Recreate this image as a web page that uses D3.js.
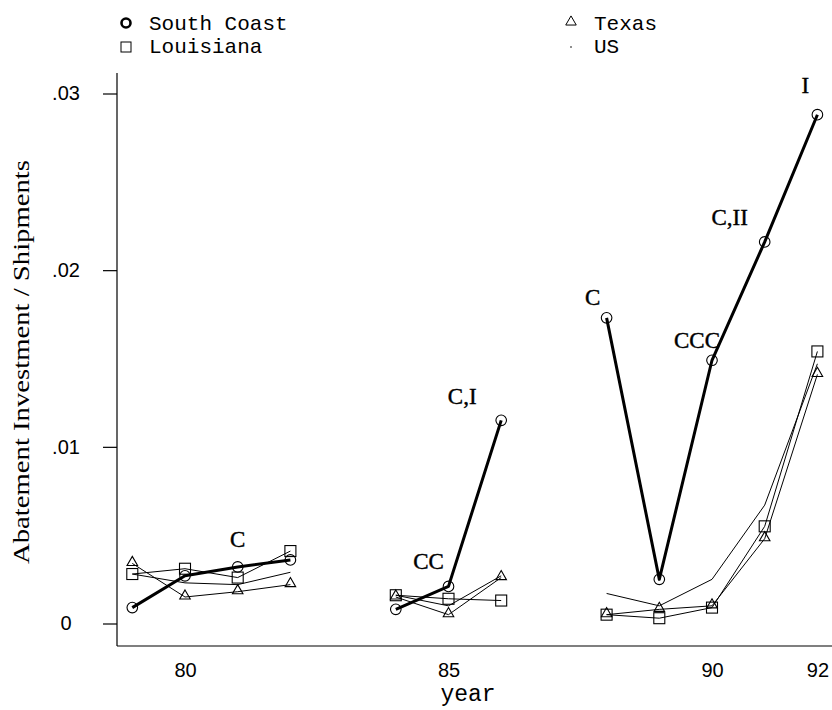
<!DOCTYPE html>
<html lang="en">
<head>
  <meta charset="UTF-8">
  <title>Abatement Investment / Shipments</title>
  <script src="https://d3js.org/d3.v7.min.js"></script>
  <style>
    body { margin: 0; background: #fff; }
    .mono { font-family: "Liberation Mono", "DejaVu Sans Mono", monospace; }
    .serif { font-family: "Liberation Serif", "Times New Roman", serif; }
    .sans { font-family: "Liberation Sans", Arial, sans-serif; }
  </style>
</head>
<body>
<script>
  // years (null values leave the gaps at 83 and 87)
  var years = [79, 80, 81, 82, 83, 84, 85, 86, 87, 88, 89, 90, 91, 92];

  var southCoast = [0.0009, 0.0027, 0.0032, 0.0036, null, 0.0008, 0.0021, 0.0115, null, 0.0173, 0.0025, 0.0149, 0.0216, 0.0288];
  var louisiana  = [0.0028, 0.0031, 0.0026, 0.0041, null, 0.0016, 0.0014, 0.0013, null, 0.0005, 0.0003, 0.0009, 0.0055, 0.0154];
  var texas      = [0.0034, 0.0015, 0.0018, 0.0022, null, 0.0015, 0.0005, 0.0026, null, 0.0005, 0.0008, 0.0010, 0.0048, 0.0141];
  var us         = [0.0028, 0.0023, 0.0022, 0.0029, null, 0.0016, 0.0010, 0.0027, null, 0.0017, 0.0010, 0.0025, 0.0067, 0.0147];

  var yTicks = [0, 0.01, 0.02, 0.03];
  var yTickLabels = ["0", ".01", ".02", ".03"];
  var xTicks = [80, 85, 90, 92];

  // annotations on the South Coast series
  var noteYears = [81, 85, 86, 88, 90, 91, 92];
  var noteTexts = ["C", "CC", "C,I", "C", "CCC", "C,II", "I"];
  // label offsets from the point (layout only)
  var noteDx = [0, -20, -39, -14, -15, -35, -12];
  var noteDy = [-20, -17, -16, -13, -12, -17, -22];

  var W = 832, H = 710;
  var svg = d3.select("body").append("svg")
    .attr("width", W)
    .attr("height", H);

  var x = d3.scaleLinear().domain([80, 92]).range([185, 817.4]);
  var y = d3.scaleLinear().domain([0, 0.03]).range([623.5, 93.5]);

  // axes
  svg.append("line")
    .attr("x1", 117).attr("x2", 117).attr("y1", 73).attr("y2", 646)
    .attr("stroke", "#000").attr("stroke-width", 1.2);
  svg.append("line")
    .attr("x1", 117).attr("x2", 832).attr("y1", 646).attr("y2", 646)
    .attr("stroke", "#000").attr("stroke-width", 1.2);

  var yAxis = svg.append("g")
    .attr("transform", "translate(117,0)")
    .call(d3.axisLeft(y).tickValues(yTicks).tickSize(14).tickPadding(4)
      .tickFormat(function (d, i) { return yTickLabels[i]; }));
  yAxis.select(".domain").remove();
  yAxis.selectAll("line").attr("stroke-width", 1.2);
  yAxis.selectAll("text")
    .attr("class", "sans")
    .attr("x", -51)
    .attr("text-anchor", "middle")
    .attr("font-size", 20)
    .attr("fill", "#000");

  var xAxis = svg.append("g")
    .attr("transform", "translate(0,646)")
    .call(d3.axisBottom(x).tickValues(xTicks).tickSize(0).tickPadding(17)
      .tickFormat(d3.format("d")));
  xAxis.select(".domain").remove();
  xAxis.selectAll("text")
    .attr("class", "sans")
    .attr("font-size", 20)
    .attr("fill", "#000");

  svg.append("text")
    .attr("class", "mono")
    .attr("x", 468).attr("y", 701)
    .attr("text-anchor", "middle")
    .attr("font-size", 23)
    .text("year");

  svg.append("text")
    .attr("class", "serif")
    .attr("transform", "translate(29,362) rotate(-90)")
    .attr("text-anchor", "middle")
    .attr("font-size", 24)
    .attr("textLength", 404)
    .attr("lengthAdjust", "spacingAndGlyphs")
    .text("Abatement Investment / Shipments");

  // lines
  var line = d3.line()
    .defined(function (d) { return d != null; })
    .x(function (d, i) { return x(years[i]); })
    .y(function (d) { return y(d); });

  function drawLine(vals, width) {
    svg.append("path")
      .datum(vals)
      .attr("d", line)
      .attr("fill", "none")
      .attr("stroke", "#000")
      .attr("stroke-width", width)
      .attr("stroke-linejoin", "round");
  }

  function pts(vals) {
    return years.map(function (yr, i) { return { yr: yr, v: vals[i] }; })
      .filter(function (d) { return d.v != null; });
  }

  drawLine(us, 1);
  drawLine(texas, 1);
  drawLine(louisiana, 1);
  drawLine(southCoast, 3);

  var tri = d3.symbol().type(d3.symbolTriangle).size(48);

  svg.selectAll(".tx").data(pts(texas)).enter().append("path")
    .attr("class", "tx")
    .attr("d", tri)
    .attr("transform", function (d) { return "translate(" + x(d.yr) + "," + (y(d.v) - 1) + ")"; })
    .attr("fill", "none").attr("stroke", "#000").attr("stroke-width", 1.1);

  svg.selectAll(".la").data(pts(louisiana)).enter().append("rect")
    .attr("class", "la")
    .attr("x", function (d) { return x(d.yr) - 5.5; })
    .attr("y", function (d) { return y(d.v) - 5.5; })
    .attr("width", 11).attr("height", 11)
    .attr("fill", "none").attr("stroke", "#000").attr("stroke-width", 1.1);

  svg.selectAll(".sc").data(pts(southCoast)).enter().append("circle")
    .attr("class", "sc")
    .attr("cx", function (d) { return x(d.yr); })
    .attr("cy", function (d) { return y(d.v); })
    .attr("r", 5.3)
    .attr("fill", "none").attr("stroke", "#000").attr("stroke-width", 1.1);

  // annotations
  svg.selectAll(".note").data(noteYears).enter().append("text")
    .attr("class", "serif")
    .attr("x", function (d, i) { return x(d) + noteDx[i]; })
    .attr("y", function (d, i) { return y(southCoast[years.indexOf(d)]) + noteDy[i]; })
    .attr("text-anchor", "middle")
    .attr("font-size", 23)
    .attr("stroke", "#000").attr("stroke-width", 0.4)
    .text(function (d, i) { return noteTexts[i]; });

  // legend
  var leg = svg.append("g").attr("class", "mono").attr("font-size", 21);
  leg.append("circle").attr("cx", 126).attr("cy", 23).attr("r", 4.5)
    .attr("fill", "none").attr("stroke", "#000").attr("stroke-width", 2.6);
  leg.append("text").attr("x", 149).attr("y", 30).text("South Coast");
  leg.append("rect").attr("x", 121).attr("y", 42).attr("width", 10).attr("height", 10)
    .attr("fill", "none").attr("stroke", "#000").attr("stroke-width", 1);
  leg.append("text").attr("x", 149).attr("y", 53).text("Louisiana");
  leg.append("path").attr("d", tri).attr("transform", "translate(571,22)")
    .attr("fill", "none").attr("stroke", "#000").attr("stroke-width", 1);
  leg.append("text").attr("x", 594).attr("y", 30).text("Texas");
  leg.append("circle").attr("cx", 571).attr("cy", 47).attr("r", 0.8).attr("fill", "#000");
  leg.append("text").attr("x", 594).attr("y", 53).text("US");
</script>
</body>
</html>
